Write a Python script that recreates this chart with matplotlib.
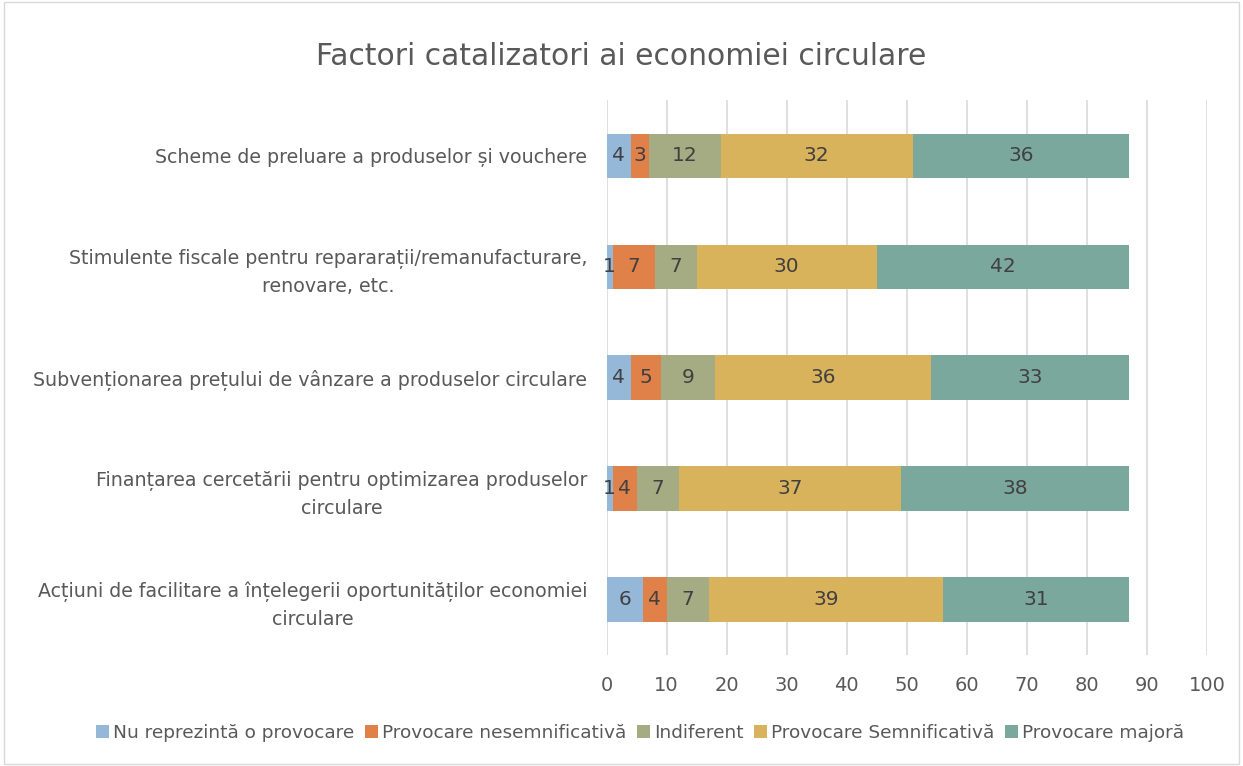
import matplotlib
matplotlib.use("Agg")
import matplotlib.pyplot as plt
import numpy as np

plt.rcParams['font.family'] = ['DejaVu Sans']

categories = [
    "Scheme de preluare a produselor și vouchere",
    "Stimulente fiscale pentru repararații/remanufacturare,\nrenovare, etc.",
    "Subvenționarea prețului de vânzare a produselor circulare",
    "Finanțarea cercetării pentru optimizarea produselor\ncirculare",
    "Acțiuni de facilitare a înțelegerii oportunităților economiei\ncirculare",
]
series_names = ["Nu reprezintă o provocare", "Provocare nesemnificativă", "Indiferent",
                "Provocare Semnificativă", "Provocare majoră"]
nu_reprezinta = [4, 1, 4, 1, 6]
nesemnificativa = [3, 7, 5, 4, 4]
indiferent = [12, 7, 9, 7, 7]
semnificativa = [32, 30, 36, 37, 39]
majora = [36, 42, 33, 38, 31]
colors = ["#95B8D9", "#E0814A", "#A5AB82", "#D9B25C", "#7BA89C"]
x_ticks = list(range(0, 101, 10))

series = [nu_reprezinta, nesemnificativa, indiferent, semnificativa, majora]

fig = plt.figure(figsize=(12.43, 7.66), dpi=100)
ax = fig.add_axes([0.488, 0.145, 0.483, 0.724])

y = np.arange(len(categories))
left = np.zeros(len(categories))
text_color = "#404040"
for vals, name, c in zip(series, series_names, colors):
    ax.barh(y, vals, left=left, height=0.4, color=c, label=name, zorder=3)
    for yi, l, v in zip(y, left, vals):
        ax.text(l + v / 2, yi, str(v), ha='center', va='center', fontsize=14.5,
                color=text_color, zorder=4)
    left = left + np.array(vals)

ax.set_xlim(0, 100)
ax.set_ylim(len(categories) - 0.5, -0.5)
ax.set_xticks(x_ticks)
ax.set_yticks(y)
ax.set_yticklabels(categories, fontsize=13.7, color="#595959", multialignment='center',
                   linespacing=1.5)
ax.tick_params(axis='x', labelsize=14, colors="#595959", length=0, pad=15)
ax.tick_params(axis='y', length=0, pad=14)
ax.xaxis.grid(True, color="#D9D9D9", linewidth=1.2, zorder=0)
for s in ax.spines.values():
    s.set_visible(False)

fig.suptitle("Factori catalizatori ai economiei circulare", fontsize=21.4, color="#595959",
             y=0.945)

fig.legend(loc='center', bbox_to_anchor=(0.515, 0.043), ncol=5, frameon=False,
           fontsize=13.3, handlelength=0.7, handleheight=0.7, handletextpad=0.2,
           columnspacing=0.6, labelcolor="#595959")

border = plt.Rectangle((0.003, 0.003), 0.994, 0.994, transform=fig.transFigure,
                       fill=False, edgecolor="#D9D9D9", linewidth=1)
fig.patches.append(border)

fig.savefig("out.png", dpi=100)
